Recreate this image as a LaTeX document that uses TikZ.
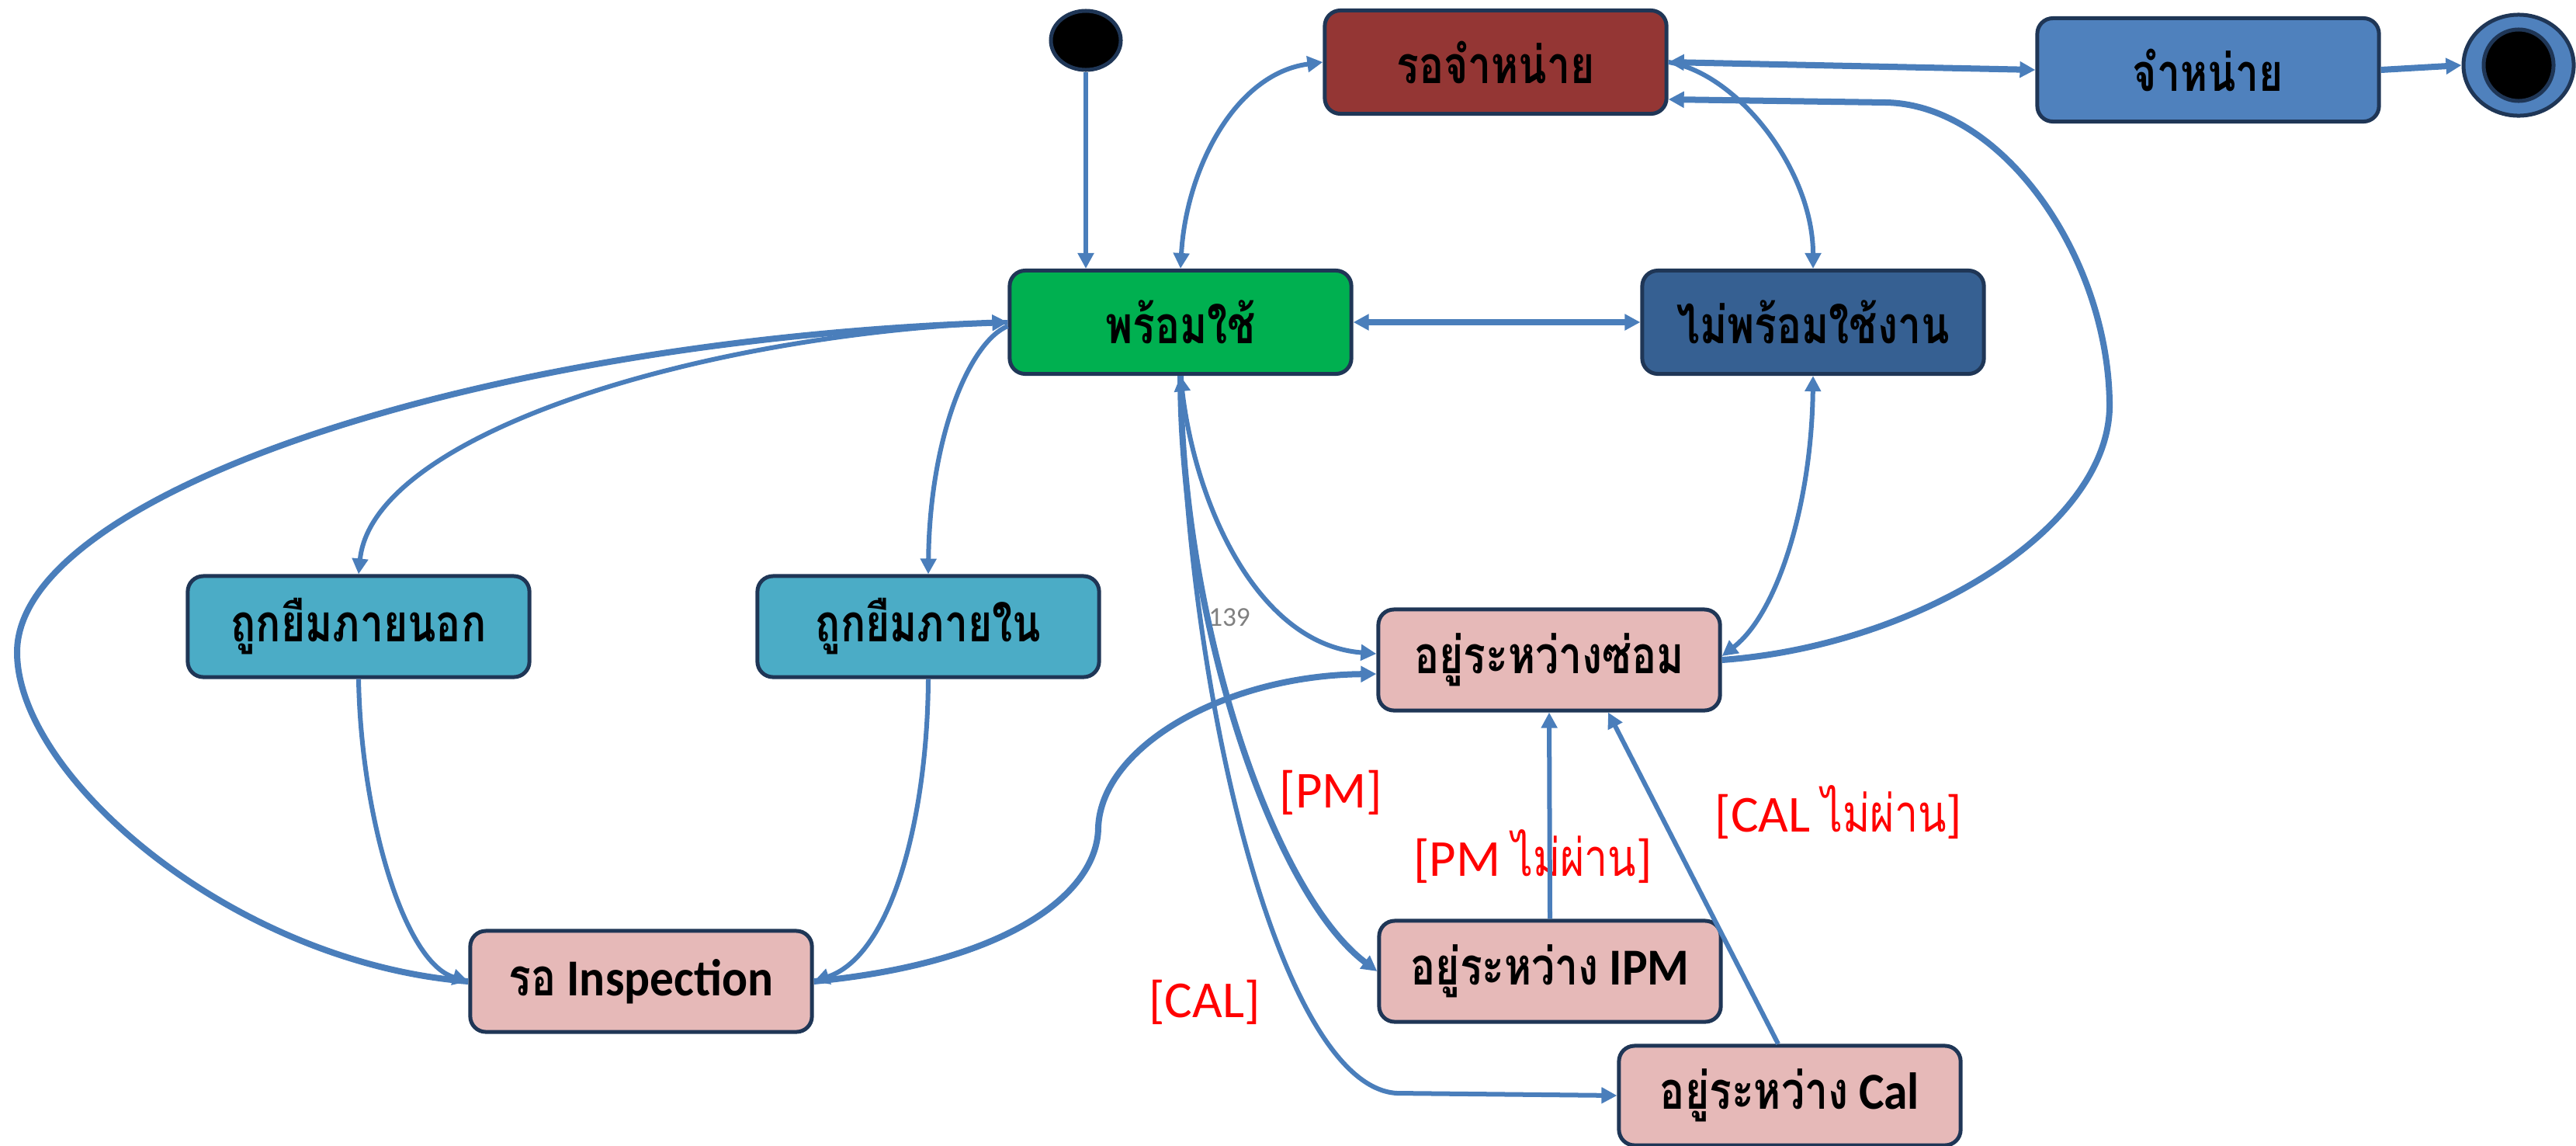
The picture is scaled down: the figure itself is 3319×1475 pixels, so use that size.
\documentclass[tikz,border=0pt]{standalone}
\usepackage{fontspec}
\setmainfont{Carlito}
\newfontfamily\thaifont[Script=Thai, FakeStretch=0.8]{Loma}
\newfontfamily\boxlatin[FakeStretch=0.92]{Carlito}
\usetikzlibrary{calc,arrows.meta,shapes.geometric}
\definecolor{flowblue}{HTML}{4A7EBB}
\definecolor{boxline}{HTML}{1F3656}
\definecolor{readygreen}{HTML}{00B050}
\definecolor{waitred}{HTML}{943634}
\definecolor{disposeblue}{HTML}{4F81BD}
\definecolor{notreadyblue}{HTML}{366092}
\definecolor{loanteal}{HTML}{4BACC6}
\definecolor{workpink}{HTML}{E6B9B8}

\begin{document}
\begin{tikzpicture}[x=0.01cm, y=-0.01cm,
  >={Triangle[length=0.2cm,width=0.2cm]},
  status/.style={fill=#1, draw=boxline, line width=0.05cm, rounded corners=0.2cm, minimum width=4.4cm, minimum height=1.3cm, align=center, font=\boxlatin\fontsize{19}{22}\selectfont\bfseries},
  flow/.style={draw=flowblue, line width=0.06cm},
  bold flow/.style={draw=flowblue, line width=0.08cm},
  guard/.style={text=red, font=\fontsize{19}{22}\selectfont}
]
  \useasboundingbox (0,0) rectangle (3319,1475);

  % pseudo states
  \node[ellipse, fill=black, draw=boxline, line width=0.05cm, minimum width=0.9cm, minimum height=0.76cm, inner sep=0pt] (start) at (1399,52) {};
  \node[ellipse, fill=disposeblue, draw=boxline, line width=0.05cm, minimum width=1.42cm, minimum height=1.3cm, inner sep=0pt] (endo) at (3245,84) {};
  \node[ellipse, fill=black, draw=boxline, line width=0.05cm, minimum width=0.9cm, minimum height=0.92cm, inner sep=0pt] (endi) at (3245,84) {};

  % states
  \node[status=waitred, minimum height=1.33cm] (wait) at (1927,80) {\thaifont รอจำหน่าย};
  \node[status=disposeblue, minimum height=1.33cm] (dispose) at (2845,90) {\thaifont จำหน่าย};
  \node[status=readygreen, minimum height=1.33cm] (ready) at (1521,415) {\thaifont พร้อมใช้};
  \node[status=notreadyblue, minimum height=1.33cm] (notready) at (2336,415) {\thaifont ไม่พร้อมใช้งาน};
  \node[status=loanteal] (extloan) at (462,807) {\thaifont ถูกยืมภายนอก};
  \node[status=loanteal] (intloan) at (1196,807) {\thaifont ถูกยืมภายใน};
  \node[status=workpink] (repair) at (1996,850) {\thaifont อยู่ระหว่างซ่อม};
  \node[status=workpink] (inspect) at (826,1264) {{\thaifont รอ} Inspection};
  \node[status=workpink] (ipm) at (1997,1251) {{\thaifont อยู่ระหว่าง} IPM};
  \node[status=workpink, minimum height=1.28cm] (cal) at (2306,1411) {{\thaifont อยู่ระหว่าง} Cal};

  % guards
  \node[guard] (pm) at (1715,1021) {[PM]};
  \node[guard] (pmfail) at (1975,1103) {[PM {\thaifont ไม่ผ่าน}]};
  \node[guard] (calfail) at (2369,1046) {[CAL {\thaifont ไม่ผ่าน}]};
  \node[guard] (calg) at (1552,1291) {[CAL]};
  \node[text=gray, font=\fontsize{10}{12}\selectfont] (num) at (1584,795) {139};

  % transitions
  \draw[flow, ->] (start.south) -- (start.south |- ready.north);
  \draw[flow, <->] (ready.north) .. controls (1528,220) and (1590,95) .. (wait.west);
  \draw[bold flow, <->] (wait.east) -- (dispose.west);
  \draw[bold flow, ->] (dispose.east) -- (endo.west);
  \draw[flow, ->] (wait.east) .. controls (2240,95) and (2336,220) .. (notready.north);
  \draw[bold flow, ->] (repair.east) .. controls (2470,832) and (2720,680) .. (2718,520)
    .. controls (2716,330) and (2580,135) .. (2430,132) -- ($(wait.east)+(0,48)$);
  \draw[bold flow, <->] (ready.east) -- (notready.west);
  \draw[flow, <->] (notready.south) .. controls (2334,650) and (2290,790) .. ($(repair.east)+(0,-5)$);
  \draw[flow, <->] (ready.south) .. controls (1540,650) and (1620,830) .. ($(repair.west)+(0,-8)$);
  \draw[bold flow, ->] (ready.south) .. controls (1522,800) and (1640,1150) .. (ipm.west);
  \draw[flow, ->] (ready.south) .. controls (1530,900) and (1650,1400) .. (1800,1408) -- (cal.west);
  \draw[flow, ->] (ipm.north) -- (repair.south);
  \draw[flow, ->] ($(cal.north)+(-15,0)$) -- ($(repair.south)+(76,0)$);
  \draw[bold flow, ->] (inspect.east) .. controls (1300,1240) and (1415,1150) .. (1415,1065)
    .. controls (1420,960) and (1580,870) .. ($(repair.west)+(0,18)$);
  \draw[flow, ->] (ready.west) .. controls (900,430) and (480,560) .. (extloan.north);
  \draw[flow, ->] ($(ready.west)+(0,5)$) .. controls (1250,440) and (1198,560) .. (intloan.north);
  \draw[bold flow, ->] (inspect.west) .. controls (300,1240) and (22,1000) .. (22,840)
    .. controls (22,640) and (600,440) .. (ready.west);
  \draw[flow, ->] (extloan.south) .. controls (465,1050) and (520,1240) .. (inspect.west);
  \draw[flow, ->] (intloan.south) .. controls (1195,1050) and (1150,1230) .. (inspect.east);
\end{tikzpicture}
\end{document}
